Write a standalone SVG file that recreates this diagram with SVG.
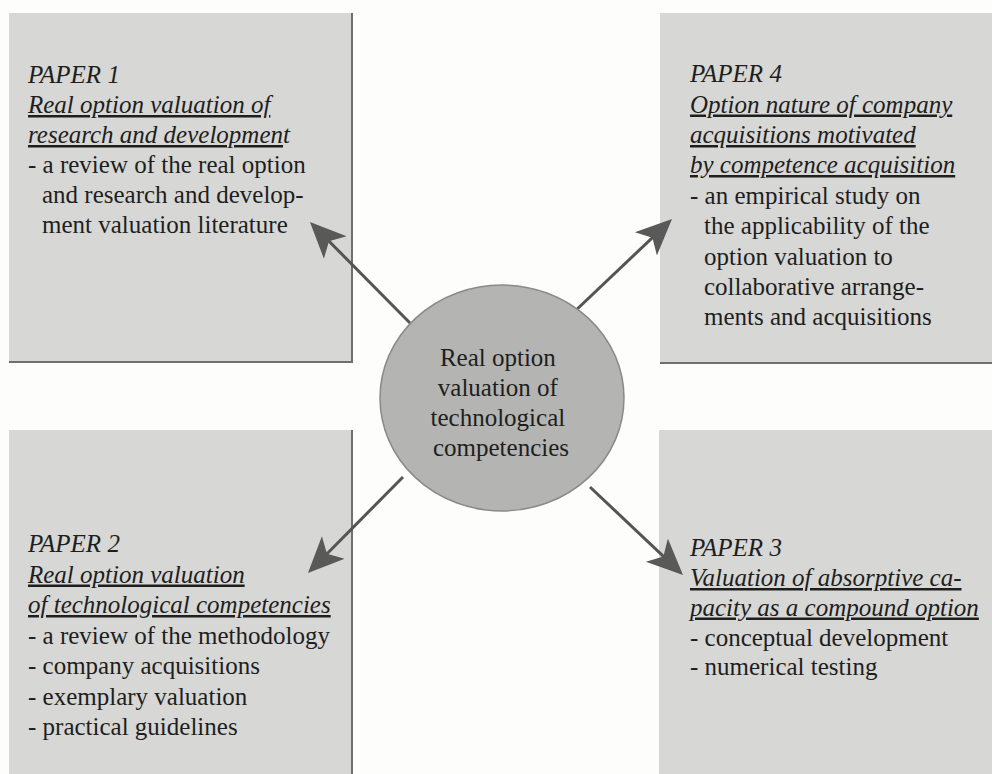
<svg xmlns="http://www.w3.org/2000/svg" width="992" height="774" viewBox="0 0 992 774">
  <style>
    .box { fill: #d7d7d5; }
    .edge { stroke: #6f6f6f; stroke-width: 2; fill: none; }
    .txt { font-family: "Liberation Serif", "Times New Roman", serif; font-size: 25px; fill: #1e1e1e; }
    .it { font-style: italic; }
    .ul { text-decoration: underline; }
    .hub { fill: #b4b4b2; stroke: #8a8a8a; stroke-width: 1.5; }
    .conn { stroke: #555555; stroke-width: 3; fill: none; marker-end: url(#head); }
  </style>
  <defs>
    <marker id="head" viewBox="0 0 36 36" markerWidth="36" markerHeight="36" refX="24" refY="18" orient="auto" markerUnits="userSpaceOnUse">
      <path d="M36,18 L0,2 L9,18 L0,34 Z" fill="#595959"/>
    </marker>
  </defs>

  <rect width="992" height="774" fill="#fdfdfb"/>

  <!-- Paper 1: top left -->
  <g id="paper1">
    <rect class="box" x="9" y="13" width="343" height="349"/>
    <polyline class="edge" points="352,13 352,362 9,362"/>
    <text class="txt" x="28" y="83">
      <tspan class="it" x="28" y="83">PAPER 1</tspan>
      <tspan class="it ul" x="28" y="113">Real option valuation of</tspan>
      <tspan class="it ul" x="28" y="143">research and developmen</tspan><tspan class="it">t</tspan>
      <tspan x="28" y="173">- a review of the real option</tspan>
      <tspan x="42" y="203">and research and develop-</tspan>
      <tspan x="42" y="233">ment valuation literature</tspan>
    </text>
  </g>

  <!-- Paper 4: top right -->
  <g id="paper4">
    <rect class="box" x="660" y="13" width="332" height="350"/>
    <line class="edge" x1="660" y1="363" x2="992" y2="363"/>
    <text class="txt" x="690" y="82">
      <tspan class="it" x="690" y="82">PAPER 4</tspan>
      <tspan class="it ul" x="690" y="112.5">Option nature of company</tspan>
      <tspan class="it ul" x="690" y="143">acquisitions motivated</tspan>
      <tspan class="it ul" x="690" y="173">by competence acquisition</tspan>
      <tspan x="690" y="203.5">- an empirical study on</tspan>
      <tspan x="704" y="234">the applicability of the</tspan>
      <tspan x="704" y="264.5">option valuation to</tspan>
      <tspan x="704" y="295">collaborative arrange-</tspan>
      <tspan x="704" y="325">ments and acquisitions</tspan>
    </text>
  </g>

  <!-- Paper 2: bottom left -->
  <g id="paper2">
    <rect class="box" x="9" y="430" width="343" height="344"/>
    <line class="edge" x1="352" y1="430" x2="352" y2="774"/>
    <text class="txt" x="28" y="552">
      <tspan class="it" x="28" y="552">PAPER 2</tspan>
      <tspan class="it ul" x="28" y="582.5">Real option valuation</tspan>
      <tspan class="it ul" x="28" y="613">of technological competencies</tspan>
      <tspan x="28" y="643.5">- a review of the methodology</tspan>
      <tspan x="28" y="674">- company acquisitions</tspan>
      <tspan x="28" y="704.5">- exemplary valuation</tspan>
      <tspan x="28" y="735">- practical guidelines</tspan>
    </text>
  </g>

  <!-- Paper 3: bottom right -->
  <g id="paper3">
    <rect class="box" x="659" y="430" width="333" height="344"/>
    <text class="txt" x="690" y="556">
      <tspan class="it" x="690" y="556">PAPER 3</tspan>
      <tspan class="it ul" x="690" y="586">Valuation of absorptive ca-</tspan>
      <tspan class="it ul" x="690" y="615.5">pacity as a compound option</tspan>
      <tspan x="690" y="645.5">- conceptual development</tspan>
      <tspan x="690" y="675">- numerical testing</tspan>
    </text>
  </g>

  <!-- Arrows from the hub to each paper -->
  <g id="connectors">
    <line class="conn" x1="410" y1="323" x2="318.4" y2="230.5"/>
    <line class="conn" x1="573" y1="313" x2="663.3" y2="227.3"/>
    <line class="conn" x1="403" y1="477" x2="316.4" y2="564.5"/>
    <line class="conn" x1="590" y1="487" x2="674.3" y2="566.7"/>
  </g>

  <!-- Central theme -->
  <g id="hub">
    <ellipse class="hub" cx="502" cy="398" rx="122" ry="113"/>
    <text class="txt" text-anchor="middle">
      <tspan x="501" y="366">Real option</tspan>
      <tspan x="501" y="396">valuation of</tspan>
      <tspan x="501" y="426">technological</tspan>
      <tspan x="501" y="456">competencies</tspan>
    </text>
  </g>
</svg>
